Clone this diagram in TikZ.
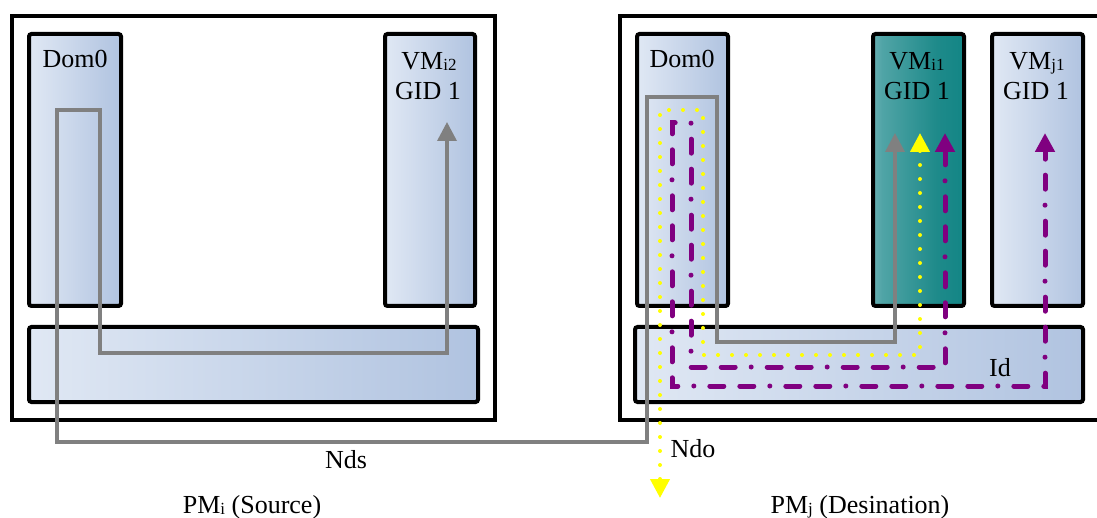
\documentclass[tikz,border=0pt]{standalone}
\usepackage{fontspec}
\setmainfont{Liberation Serif}
\usetikzlibrary{arrows.meta}
\newcommand{\lsub}[1]{\raisebox{-1pt}{\fontsize{17}{17}\selectfont #1}}
\definecolor{bluelight}{RGB}{224,232,244}
\definecolor{bluedark}{RGB}{176,195,224}
\definecolor{teallight}{RGB}{220,233,240}
\definecolor{tealmid}{RGB}{80,164,166}
\definecolor{tealmid2}{RGB}{30,138,138}
\definecolor{tealdark}{RGB}{0,126,126}
\definecolor{pgray}{RGB}{128,128,128}
\definecolor{pyellow}{RGB}{255,255,0}
\definecolor{ppurple}{RGB}{128,0,128}
\pgfdeclarehorizontalshading{tealshade}{100bp}{color(0bp)=(teallight); color(30bp)=(tealmid); color(60bp)=(tealmid2); color(100bp)=(tealdark)}
\begin{document}
\begin{tikzpicture}[x=1pt,y=-1pt,
  every node/.style={font=\fontsize{26}{31}\selectfont, inner sep=0pt, outer sep=0pt},
  pmbox/.style={draw=black, line width=3.5pt, fill=white, anchor=north west},
  bluebox/.style={draw=black, line width=4pt, rounded corners=2.5pt, anchor=north west,
    left color=bluelight, right color=bluedark},
  tealbox/.style={draw=black, line width=4pt, rounded corners=2.5pt, anchor=north west,
    shading=tealshade},
  lbl/.style={anchor=base},
  graypath/.style={draw=pgray, line width=3.5pt, {Triangle[length=19pt,width=19pt]}-{Triangle[length=19pt,width=19pt]}},
  yellowpath/.style={draw=pyellow, line width=4pt, line cap=round, dash pattern=on 0pt off 14pt,
    {Triangle[length=19pt,width=19pt]}-{Triangle[length=19pt,width=19pt]}},
  purplepath/.style={draw=ppurple, line width=5pt, line cap=round,
    dash pattern=on 14pt off 16pt on 0pt off 16pt on 14pt off 16pt,
    {Triangle[length=19pt,width=19pt]}-{Triangle[length=19pt,width=19pt]}}
]
\useasboundingbox (0,0) rectangle (1097,518);
\begin{scope}
\clip (0,0) rectangle (1097,518);
% Source PM
\node[pmbox, minimum width=483pt, minimum height=404pt] (pmi) at (12,16) {};
\node[bluebox, minimum width=92pt, minimum height=272pt] (dom0l) at (29,34) {};
\node[bluebox, minimum width=90pt, minimum height=272pt] (vmi2) at (385,34) {};
\node[bluebox, minimum width=449pt, minimum height=75pt] (barl) at (29,327) {};
% Destination PM
\node[pmbox, minimum width=520pt, minimum height=404pt] (pmj) at (620,16) {};
\node[bluebox, minimum width=91pt, minimum height=272pt] (dom0r) at (637,34) {};
\node[tealbox, minimum width=91pt, minimum height=272pt] (vmi1) at (873,34) {};
\node[bluebox, minimum width=91pt, minimum height=272pt] (vmj1) at (992,34) {};
\node[bluebox, minimum width=448pt, minimum height=75pt] (barr) at (635,327) {};
\end{scope}
% labels
\node[lbl] (tdom0l) at (75,68) {Dom0};
\node[lbl] (tvmi2) at (429,70) {VM\lsub{i2}};
\node[lbl] (tgidl) at (428,100) {GID 1};
\node[lbl] (tdom0r) at (682,68) {Dom0};
\node[lbl] (tvmi1) at (917,70) {VM\lsub{i1}};
\node[lbl] (tgidi1) at (917,100) {GID 1};
\node[lbl] (tvmj1) at (1037,70) {VM\lsub{j1}};
\node[lbl] (tgidj1) at (1036,100) {GID 1};
\node[lbl] (tid) at (1000,376) {Id};
\node[lbl] (tnds) at (346,468) {Nds};
\node[lbl] (tndo) at (693,457) {Ndo};
\node[lbl] (tpmi) at (252,513) {PM\lsub{i} (Source)};
\node[lbl] (tpmj) at (860,513) {PM\lsub{j} (Desination)};
% path end points
\coordinate (gS) at (447,122);
\coordinate (gT) at (895,133);
\coordinate (yS) at (920,133);
\coordinate (yT) at (660,498);
\coordinate (pS) at (945,133);
\coordinate (pT) at (1045,133);
% connectors
\draw[graypath] (gS) -- (447,353) -- (100,353) -- (100,110) -- (57,110) -- (57,442)
  -- (647,442) -- (647,97) -- (717,97) -- (717,342) -- (895,342) -- (gT);
\draw[yellowpath] (yS) -- (920,355) -- (703,355) -- (703,110) -- (660,110) -- (yT);
\draw[purplepath] (pS) -- (945,367) -- (691,367) -- (691,123) -- (672,123) -- (672,386)
  -- (1045,386) -- (pT);
\end{tikzpicture}
\end{document}
